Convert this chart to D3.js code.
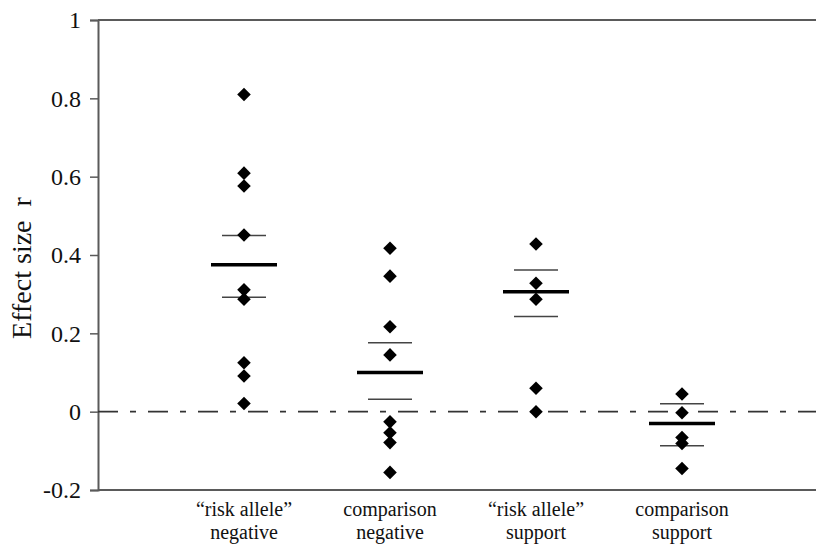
<!DOCTYPE html>
<html><head><meta charset="utf-8">
<script src="https://cdn.jsdelivr.net/npm/d3@7"></script>
<style>body{margin:0;background:#fff}svg{display:block}</style>
</head><body>
<svg id="c" width="816" height="544"></svg>
<script>
const categories = ["\u201Crisk allele\u201D|negative", "comparison|negative", "\u201Crisk allele\u201D|support", "comparison|support"];
const group1 = [0.81, 0.609, 0.576, 0.451, 0.311, 0.287, 0.125, 0.091, 0.021];
const group2 = [0.417, 0.346, 0.217, 0.145, -0.026, -0.054, -0.079, -0.155];
const group3 = [0.428, 0.328, 0.287, 0.06, 0.0];
const group4 = [0.045, -0.003, -0.066, -0.081, -0.145];
const means = [0.375, 0.10, 0.306, -0.03];
const ciUpper = [0.45, 0.176, 0.362, 0.02];
const ciLower = [0.292, 0.032, 0.243, -0.087];
const yTicks = [-0.2, 0, 0.2, 0.4, 0.6, 0.8, 1];
const groups = [group1, group2, group3, group4];

(function () {
const svg = d3.select("#c");
const mLeft = 98, mRight = 816, mTop = 20, mBottom = 490;
const x = d3.scalePoint().domain(categories).range([mLeft, 828]).padding(1);
const y = d3.scaleLinear().domain([-0.2, 1]).range([mBottom, mTop]);
const axisColor = "#5a5a5a";
const serif = "Liberation Serif, DejaVu Serif, serif";

// y axis
const ya = svg.append("g").attr("transform", `translate(${mLeft},0)`)
  .call(d3.axisLeft(y).tickValues(yTicks).tickSize(8).tickPadding(9)
    .tickFormat(d => d === 0 ? "0" : String(+d.toFixed(1))));
ya.attr("font-family", serif).attr("font-size", 24);
ya.select(".domain").attr("stroke", axisColor).attr("stroke-width", 2);
ya.selectAll(".tick line").attr("stroke", axisColor).attr("stroke-width", 1.5);
ya.selectAll(".tick text").attr("fill", "#111");

// top border and bottom axis
svg.append("line").attr("x1", mLeft).attr("x2", mRight).attr("y1", y(1)).attr("y2", y(1))
  .attr("stroke", axisColor).attr("stroke-width", 2);
const xa = svg.append("g").attr("transform", `translate(0,${mBottom})`)
  .call(d3.axisBottom(x).tickSize(0).tickPadding(0).tickFormat(""));
xa.select(".domain").attr("d", `M${mLeft},0H${mRight}`).attr("stroke", axisColor).attr("stroke-width", 2);

// category labels
categories.forEach(c => {
  const parts = c.split("|");
  const t = svg.append("text").attr("text-anchor", "middle")
    .attr("font-family", serif).attr("font-size", 20).attr("fill", "#111");
  t.append("tspan").attr("x", x(c)).attr("y", 516).text(parts[0]);
  t.append("tspan").attr("x", x(c)).attr("y", 539).text(parts[1]);
});

// y label
svg.append("text").attr("transform", `translate(31,268) rotate(-90)`)
  .attr("text-anchor", "middle").attr("font-family", serif).attr("font-size", 28)
  .attr("fill", "#111").text("Effect size\u00A0 r");

// zero dashed line
svg.append("line").attr("x1", mLeft).attr("x2", mRight).attr("y1", y(0)).attr("y2", y(0))
  .attr("stroke", "#333").attr("stroke-width", 1.8).attr("stroke-dasharray", "20,12,6,12");

// CI and mean lines
categories.forEach((c, i) => {
  [ciUpper[i], ciLower[i]].forEach(v => {
    svg.append("line").attr("x1", x(c) - 22).attr("x2", x(c) + 22).attr("y1", y(v)).attr("y2", y(v))
      .attr("stroke", "#444").attr("stroke-width", 1.5);
  });
  svg.append("line").attr("x1", x(c) - 33).attr("x2", x(c) + 33).attr("y1", y(means[i])).attr("y2", y(means[i]))
    .attr("stroke", "#000").attr("stroke-width", 3.5);
});

// points
const sym = d3.symbol().type(d3.symbolSquare).size(92);
categories.forEach((c, i) => {
  svg.append("g").selectAll("path").data(groups[i]).join("path")
    .attr("d", sym).attr("fill", "#000")
    .attr("transform", d => `translate(${x(c)},${y(d)}) rotate(45)`);
});
})();
</script>
</body></html>
